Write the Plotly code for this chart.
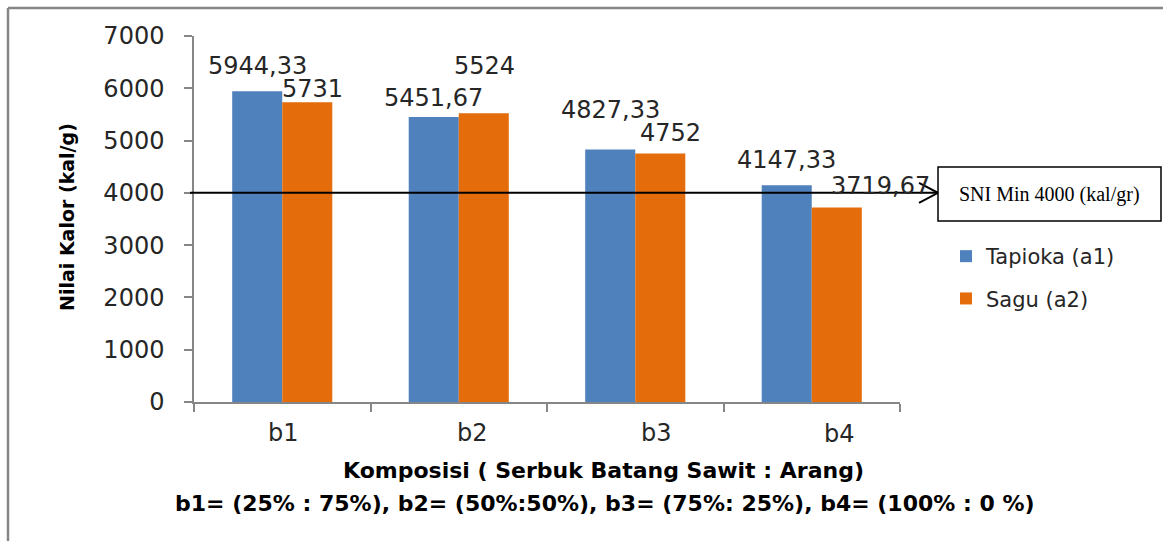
import plotly.graph_objects as go

# Heating value (kal/g) per composition, two binder types
categories = ["b1", "b2", "b3", "b4"]
tapioka = [5944.33, 5451.67, 4827.33, 4147.33]
sagu = [5731, 5524, 4752, 3719.67]
tapioka_labels = ["5944,33", "5451,67", "4827,33", "4147,33"]
sagu_labels = ["5731", "5524", "4752", "3719,67"]
sni_min = 4000

W, H = 1163, 541
ML, MR, MT, MB = 194, 263, 36, 139
PW, PH = W - ML - MR, H - MT - MB

BLUE = "#4F81BD"
ORANGE = "#E46C0A"
AXIS = "#868686"
TXT = "#262626"
FONT = "DejaVu Sans"
NUM_SIZE = 24


def px_x(px):
    return (px - ML) / PW


def px_y(py):
    return (H - MB - py) / PH


fig = go.Figure()
fig.add_trace(go.Bar(x=categories, y=tapioka, name="Tapioka (a1)",
                     marker=dict(color=BLUE, line=dict(width=0)),
                     legendgroup="a1"))
fig.add_trace(go.Bar(x=categories, y=sagu, name="Sagu (a2)",
                     marker=dict(color=ORANGE, line=dict(width=0)),
                     legendgroup="a2"))

annotations = []

# value labels above each bar (pixel nudges per label)
blue_dx = [0, 0, 0, 0]
blue_dy = [25, 19, 40, 25]
orange_dx = [5, 1, 10, 44]
orange_dy = [13, 47, 21, 22]
for i, c in enumerate(categories):
    annotations.append(dict(x=c, y=tapioka[i], xref="x", yref="y",
                            text=tapioka_labels[i], showarrow=False,
                            xshift=-25 + blue_dx[i], yshift=blue_dy[i],
                            yanchor="middle", xanchor="center",
                            font=dict(family=FONT, size=NUM_SIZE, color=TXT)))
    annotations.append(dict(x=c, y=sagu[i], xref="x", yref="y",
                            text=sagu_labels[i], showarrow=False,
                            xshift=25 + orange_dx[i], yshift=orange_dy[i],
                            yanchor="middle", xanchor="center",
                            font=dict(family=FONT, size=NUM_SIZE, color=TXT)))

# category labels under the axis
cat_dx = [1, 14, 21, 28]
cat_dy = [-31, -31, -31, -32]
for i, c in enumerate(categories):
    annotations.append(dict(x=c, y=0, xref="x", yref="paper", text=c,
                            showarrow=False, xshift=cat_dx[i], yshift=cat_dy[i],
                            yanchor="middle", xanchor="center",
                            font=dict(family=FONT, size=NUM_SIZE, color=TXT)))

# axis titles
annotations.append(dict(x=px_x(603), y=px_y(470), xref="paper", yref="paper",
                        text="<b>Komposisi ( Serbuk Batang Sawit : Arang)</b>",
                        showarrow=False, xanchor="center", yanchor="middle",
                        font=dict(family=FONT, size=22, color="#000000")))
annotations.append(dict(x=px_x(605), y=px_y(503), xref="paper", yref="paper",
                        text="<b>b1= (25% : 75%), b2= (50%:50%), b3= (75%: 25%), b4= (100% : 0 %)</b>",
                        showarrow=False, xanchor="center", yanchor="middle",
                        font=dict(family=FONT, size=22, color="#000000")))
annotations.append(dict(x=px_x(67), y=px_y(217), xref="paper", yref="paper",
                        text="<b>Nilai Kalor (kal/g)</b>", textangle=-90,
                        showarrow=False, xanchor="center", yanchor="middle",
                        font=dict(family=FONT, size=19, color="#000000")))

# SNI reference box text
annotations.append(dict(x=px_x(1049), y=px_y(194), xref="paper", yref="paper",
                        text="SNI Min 4000 (kal/gr)", showarrow=False,
                        xanchor="center", yanchor="middle",
                        font=dict(family="Liberation Serif", size=20, color="#000000")))

shapes = [
    # outer frame (top and left edges)
    dict(type="line", xref="paper", yref="paper", x0=px_x(8), x1=px_x(1170),
         y0=px_y(8), y1=px_y(8), line=dict(color=AXIS, width=2.5)),
    dict(type="line", xref="paper", yref="paper", x0=px_x(8), x1=px_x(8),
         y0=px_y(8), y1=px_y(550), line=dict(color=AXIS, width=2.5)),
    # SNI minimum line with open arrowhead
    dict(type="line", xref="paper", yref="y", x0=px_x(190), x1=px_x(937),
         y0=sni_min, y1=sni_min, line=dict(color="#000000", width=2)),
    dict(type="path", xref="paper", yref="y", xsizemode="pixel", ysizemode="pixel",
         xanchor=px_x(938), yanchor=sni_min, path="M-19,10 L0,0 L-19,-10",
         line=dict(color="#000000", width=2)),
    # SNI box
    dict(type="rect", xref="paper", yref="paper", x0=px_x(938), x1=px_x(1161),
         y0=px_y(221), y1=px_y(167), line=dict(color="#000000", width=1.5),
         fillcolor="white"),
]

fig.update_layout(
    width=W, height=H,
    margin=dict(l=ML, r=MR, t=MT, b=MB, pad=0),
    paper_bgcolor="white", plot_bgcolor="white",
    barmode="group", bargap=0.433, bargroupgap=0,
    showlegend=True,
    legend=dict(x=px_x(946), y=px_y(236), xanchor="left", yanchor="top",
                font=dict(family=FONT, size=21, color=TXT),
                tracegroupgap=12, itemwidth=30, bgcolor="rgba(0,0,0,0)"),
    annotations=annotations,
    shapes=shapes,
    font=dict(family=FONT, color=TXT),
)

fig.update_xaxes(type="category", range=[-0.5, 3.5], autorange=False,
                 showline=True, linecolor=AXIS, linewidth=1.5,
                 ticks="outside", tickson="boundaries", ticklen=8,
                 tickcolor=AXIS, tickwidth=1.5, showticklabels=False,
                 showgrid=False, zeroline=False)
fig.update_yaxes(range=[0, 7000], autorange=False, dtick=1000, showline=True,
                 linecolor=AXIS, linewidth=1.5, ticks="outside", ticklen=8,
                 tickcolor=AXIS, tickwidth=1.5, showgrid=False, zeroline=False,
                 ticklabelstandoff=15,
                 tickfont=dict(family=FONT, size=NUM_SIZE, color=TXT))

fig.write_html("out.html")
